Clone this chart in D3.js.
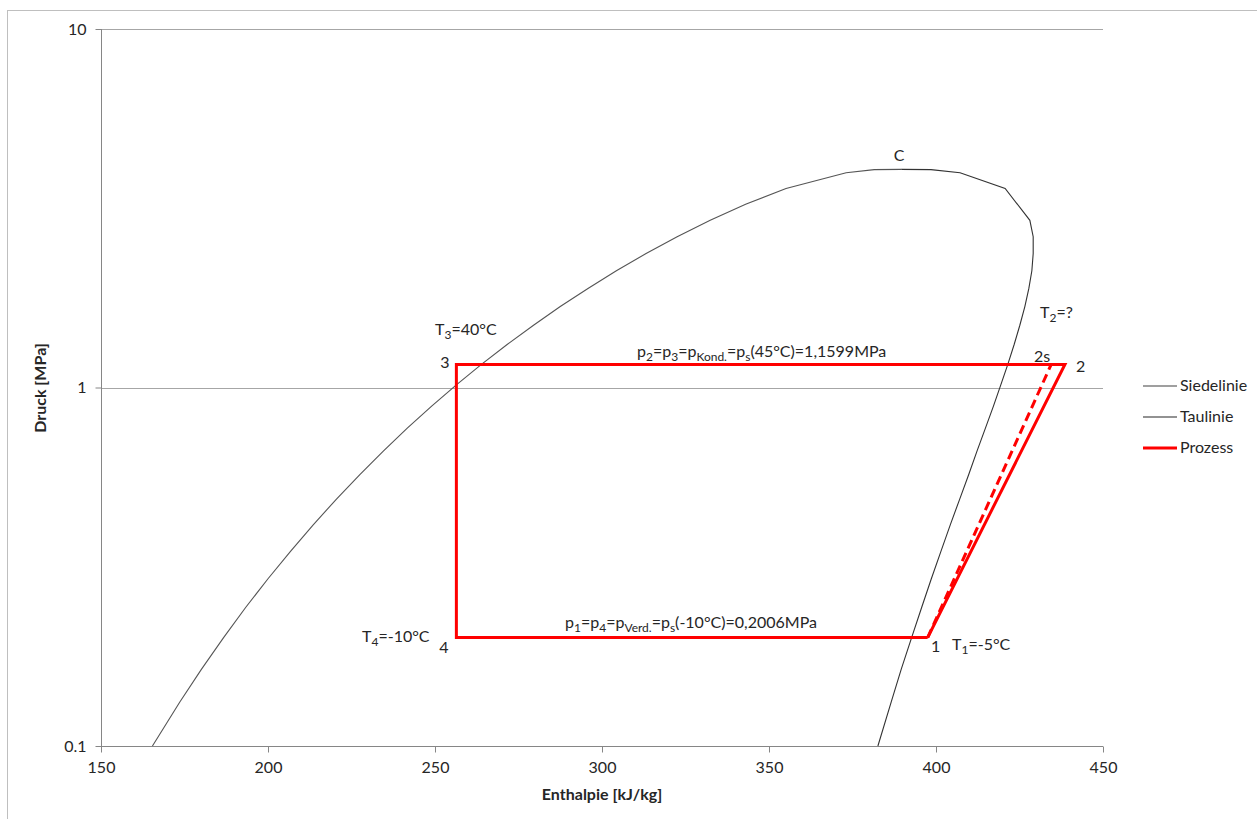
<!DOCTYPE html>
<html><head><meta charset="utf-8">
<script src="https://cdn.jsdelivr.net/npm/d3@7"></script>
<style>
html,body{margin:0;padding:0;background:#fff;}
svg text{font-family:Lato,"Open Sans",sans-serif;fill:#262626;}
</style></head>
<body>
<svg id="chart" width="1257" height="819"></svg>
<script>
// Saturated liquid line (Siedelinie) of R134a, ending at the critical point C
const liqH = [165.4, 173.6, 180.1, 186.7, 193.3, 200.0, 206.8, 213.6, 220.5, 227.5, 234.6, 241.7, 249.0, 256.4, 263.9, 271.6, 279.5, 287.5, 295.8, 304.3, 313.2, 322.5, 332.4, 343.0, 355.1, 373.1, 381.5, 389.6];
const liqP = [0.100, 0.1327, 0.1639, 0.2006, 0.2434, 0.2928, 0.3497, 0.4146, 0.4884, 0.5717, 0.6654, 0.7702, 0.8870, 1.0166, 1.1599, 1.3179, 1.4915, 1.6818, 1.8895, 2.1168, 2.3644, 2.6332, 2.9259, 3.2442, 3.5912, 3.9724, 4.052, 4.059];
// Saturated vapour line (Taulinie), from C downwards
const vapH = [389.6, 398.5, 407.2, 420.7, 428.1, 429.1, 429.1, 428.7, 427.8, 426.6, 425.1, 423.4, 421.5, 419.4, 417.2, 414.8, 412.3, 409.8, 407.1, 404.3, 401.5, 398.6, 395.7, 392.7, 389.6, 386.6, 382.6];
const vapP = [4.059, 4.052, 3.9724, 3.5912, 2.9259, 2.6332, 2.3644, 2.1168, 1.8895, 1.6818, 1.4915, 1.3179, 1.1599, 1.0166, 0.8870, 0.7702, 0.6654, 0.5717, 0.4884, 0.4146, 0.3497, 0.2928, 0.2434, 0.2006, 0.1639, 0.1327, 0.100];
// Process 1-2-3-4-1
const procH = [397.5, 438.6, 256.4, 256.4, 397.5];
const procP = [0.2006, 1.1599, 1.1599, 0.2006, 0.2006];
// Isentropic compression 1-2s
const isenH = [397.5, 434.5];
const isenP = [0.2006, 1.1599];
// Ticks
const xTicks = [150, 200, 250, 300, 350, 400, 450];
const yTicks = [0.1, 1, 10];
const yTickLabels = ["0.1", "1", "10"];
const legendNames = ["Siedelinie", "Taulinie", "Prozess"];

const svg = d3.select("#chart");
const x = d3.scaleLinear().domain([150, 450]).range([101, 1103]);
const y = d3.scaleLog().domain([0.1, 10]).range([746, 29]);

// outer chart border
svg.append("rect").attr("x", 7.5).attr("y", 10.5).attr("width", 1262).attr("height", 830)
  .attr("fill", "none").attr("stroke", "#bfbfbf").attr("stroke-width", 1);

// horizontal gridlines
svg.append("g").selectAll("line").data(yTicks.filter(d => d > 0.1)).join("line")
  .attr("x1", x(150)).attr("x2", x(450))
  .attr("y1", d => Math.round(y(d)) + 0.5).attr("y2", d => Math.round(y(d)) + 0.5)
  .attr("stroke", "#a6a6a6").attr("stroke-width", 1);

// x axis
const xAxis = d3.axisBottom(x).tickValues(xTicks).tickSize(6).tickPadding(9).tickFormat(d3.format("d"));
const gx = svg.append("g").attr("transform", `translate(0,${Math.round(y(0.1)) + 0.5})`).call(xAxis);
gx.select(".domain").attr("stroke", "#868686").attr("d", `M${x(150)},0H${x(450)}`);
gx.selectAll(".tick line").attr("stroke", "#868686");
gx.selectAll(".tick text").attr("font-size", 16).attr("font-family", "Lato").attr("fill", "#262626");

// y axis
const yAxis = d3.axisLeft(y).tickValues(yTicks).tickSize(6).tickPadding(9).tickFormat((d, i) => yTickLabels[i]);
const gy = svg.append("g").attr("transform", `translate(${Math.round(x(150)) + 0.5},0)`).call(yAxis);
gy.select(".domain").attr("stroke", "#868686").attr("d", `M0,${y(0.1)}V${y(10)}`);
gy.selectAll(".tick line").attr("stroke", "#868686");
gy.selectAll(".tick text").attr("font-size", 16).attr("font-family", "Lato").attr("fill", "#262626");

// axis titles
svg.append("text").attr("x", 602).attr("y", 800).attr("text-anchor", "middle")
  .attr("font-size", 16).attr("font-weight", "bold").text("Enthalpie [kJ/kg]");
svg.append("text").attr("transform", "translate(46,388) rotate(-90)").attr("text-anchor", "middle")
  .attr("font-size", 16).attr("font-weight", "bold").text("Druck [MPa]");

const line = d3.line().x(d => x(d[0])).y(d => y(d[1]));
const zip = (a, b) => a.map((v, i) => [v, b[i]]);

svg.append("path").attr("d", line(zip(liqH, liqP))).attr("fill", "none")
  .attr("stroke", "#555").attr("stroke-width", 1.1);
svg.append("path").attr("d", line(zip(vapH, vapP))).attr("fill", "none")
  .attr("stroke", "#333").attr("stroke-width", 1.1);
svg.append("path").attr("d", line(zip(isenH, isenP))).attr("fill", "none")
  .attr("stroke", "#ff0000").attr("stroke-width", 3).attr("stroke-dasharray", "9,5");
svg.append("path").attr("d", line(zip(procH, procP))).attr("fill", "none")
  .attr("stroke", "#ff0000").attr("stroke-width", 3).attr("stroke-linejoin", "miter");

// labels with subscripts
function label(xp, yp, parts, anchor) {
  const t = svg.append("text").attr("x", xp).attr("y", yp).attr("font-size", 16)
    .attr("text-anchor", anchor || "start");
  let shifted = false;
  parts.forEach(p => {
    if (typeof p === "string") {
      t.append("tspan").attr("dy", shifted ? -4 : 0).text(p);
      shifted = false;
    } else {
      t.append("tspan").attr("font-size", 12).attr("dy", shifted ? 0 : 4).text(p.sub);
      shifted = true;
    }
  });
  return t;
}
label(899, 161, ["C"], "middle");
label(435, 335, ["T", {sub: "3"}, "=40°C"]);
label(445, 368, ["3"], "middle");
label(637, 357, ["p", {sub: "2"}, "=p", {sub: "3"}, "=p", {sub: "Kond."}, "=p", {sub: "s"}, "(45°C)=1,1599MPa"]);
label(1034, 362, ["2s"]);
label(1076, 372, ["2"]);
label(1040, 318, ["T", {sub: "2"}, "=?"]);
label(362, 642, ["T", {sub: "4"}, "=-10°C"]);
label(444, 653, ["4"], "middle");
label(565, 628, ["p", {sub: "1"}, "=p", {sub: "4"}, "=p", {sub: "Verd."}, "=p", {sub: "s"}, "(-10°C)=0,2006MPa"]);
label(931, 652, ["1"]);
label(952, 650, ["T", {sub: "1"}, "=-5°C"]);

// legend
const legColors = ["#404040", "#6e6e6e", "#ff0000"];
const legWidths = [1.1, 1.5, 3];
const lg = svg.append("g").selectAll("g").data(legendNames).join("g")
  .attr("transform", (d, i) => `translate(1143,${386 + i * 31})`);
lg.append("line").attr("x1", 0).attr("x2", 34).attr("y1", 0).attr("y2", 0)
  .attr("stroke", (d, i) => legColors[i]).attr("stroke-width", (d, i) => legWidths[i]);
lg.append("text").attr("x", 37).attr("y", 5).attr("font-size", 16).text(d => d);
</script>
</body></html>
